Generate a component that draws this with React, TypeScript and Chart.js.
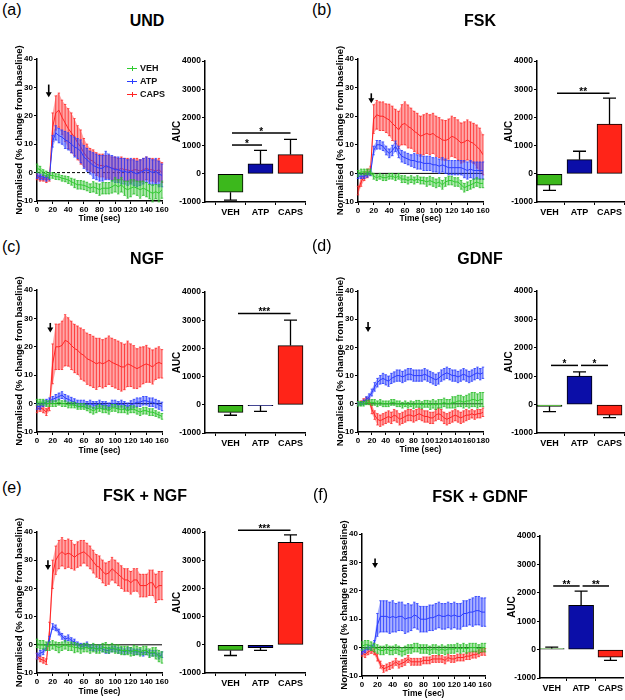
import React, { useEffect, useRef } from "react";
import { Chart, registerables } from "chart.js";
Chart.register(...registerables);

const FONT = "'Liberation Sans', Arial, Helvetica, sans-serif";

// ---------- time axes (sec) ----------
const TIME_160 = [0,4,8,12,16,20,24,28,32,36,40,44,48,52,56,60,64,68,72,76,80,84,88,92,96,100,104,108,112,116,120,124,128,132,136,140,144,148,152,156,160];
const TIME_180 = [0,4,8,12,16,20,24,28,32,36,40,44,48,52,56,60,64,68,72,76,80,84,88,92,96,100,104,108,112,116,120,124,128,132,136,140,144,148,152,156,160,164,168,172,176,180];

// ---------- (a) UND ----------
const UND_VEH = [1.5,1,0,-0.5,-1,-1,-1.4,-1.5,-2,-2.2,-2.6,-3.2,-3.8,-4.3,-4.3,-4.5,-4.9,-5.5,-5,-5.5,-6,-5.5,-5.5,-5.5,-5,-4.3,-5,-4.3,-5.5,-6,-5.5,-5,-5.5,-6,-5.5,-6,-6.7,-7.3,-6.7,-7.3,-6];
const UND_VEH_SEM = [1.5,1.2,1,1,1,1,1,1,1,1,1.2,1.2,1.5,1.5,1.5,1.5,1.5,1.5,1.8,1.8,2,2,2,2,2.2,2.5,2.5,2.5,2.5,3,3,2.5,2.5,3,2.5,2.5,2.5,3,2.5,3,3];
const UND_ATP = [-1,-1.5,-1.5,-2,-1.5,11,14,13,12.5,11.5,11,10,9,8.5,7.5,5.5,4.5,3.5,2.5,2,1.5,1.5,2.5,2,1.5,1,1,0.5,0.5,0,0.5,0,-0.5,0,0.5,1,0.5,0,0.5,-0.5,-1];
const UND_ATP_SEM = [1,1,1,1,1,2,2.5,2.5,2.5,3,3,3,3.5,3.5,4,4,4,4,4.5,4.5,4.5,4.5,5,4.5,4.5,4.5,4.5,4.5,4.5,4.5,4.5,4.5,4.5,4.5,4.5,4.5,4.5,4.5,4.5,4.5,4];
const UND_CAPS = [-1.5,-2,-2,-2.5,-2,16,21,22,19.5,17.5,15.5,14,12.5,10.5,9,7,5.5,4.5,4,3,2.5,2.5,2,2,1.5,1.5,1,1.5,1,1,0.5,1,1,0.5,1,1.5,1,1,0.5,1,0];
const UND_CAPS_SEM = [1,1,1,1,1,5,6,6,6,6.5,7,7,6.5,6,6,5,4.5,4,4,4,4,4,4,4,4,4,4,4,4,4,4,4,4,4,4,4,4,4,4,4,3.5];
const UND_ARROW = [15, 31, 26.5];
const UND_AUC = [-650, 350, 680];
const UND_AUC_SEM = [280, 480, 540];
const UND_SIG: [number, number, number, string][] = [[1.05, 2.05, 1020, "*"], [1.05, 3.0, 1450, "*"]];

// ---------- (b) FSK ----------
const FSK_VEH = [0,0.5,0.5,0.5,0.5,-1,-1.5,-1,-1.5,-1.5,-1,-1,-1.5,-1,-2,-2,-2.5,-2,-2.5,-2,-2.5,-2.5,-3,-2.5,-3,-3.5,-3,-4,-3,-2.5,-2.5,-3,-3,-4,-5,-4.5,-4,-3.5,-3,-3.5,-3.5];
const FSK_VEH_SEM = [1,1,1,1,1,1,1,1,1,1,1,1,1,1,1.2,1.2,1.2,1.2,1.2,1.2,1.2,1.2,1.5,1.5,1.5,1.5,1.5,1.5,1.5,1.5,1.5,1.5,1.5,1.5,1.5,1.5,1.5,1.5,1.5,1.5,1.5];
const FSK_ATP = [-1,-1,-1,-0.5,0,8,10,10,9.5,8,7,8,9.5,7.5,6,5.5,5,4.5,4.5,4,4,3.5,3.5,3.5,3,3,2.5,3,2.5,2,2,2,2,2,1.5,1,1.5,1,1,1,1];
const FSK_ATP_SEM = [0.8,0.8,0.8,0.8,0.8,1.5,1.5,1.5,1.5,1.5,1.5,1.8,1.8,2,2,2,2,2,2.5,2.5,2.5,2.5,2.5,2.5,2.5,2.5,2.5,2.5,2.5,2.5,2.5,2.5,2.5,2.5,3,3,3,3,3,3,3];
const FSK_CAPS = [-6,-3,-1,0,1,19,20.5,20,20,19.3,18.7,17.5,16.4,15.2,17,17.5,16.4,15.8,14.7,14,13,13.5,14,13.5,14,13,12.5,11.7,11.5,12,13,12.5,11.7,10.6,11,11.7,11,10.5,9.4,8.3,6.5];
const FSK_CAPS_SEM = [1.5,1.5,1.5,1.5,1.5,5,5,5,5,5,5.5,6,6,6.5,7,7.5,7.5,7,7,7,7,7,7,7,7,7,7,7,7,7,7,7,7,7,7,7,7,7,7.5,7.5,7];
const FSK_ARROW = [17, 28, 24.5];
const FSK_AUC = [-400, 500, 1760];
const FSK_AUC_SEM = [190, 300, 920];
const FSK_SIG: [number, number, number, string][] = [[1.25, 3.0, 2860, "**"]];

// ---------- (c) NGF ----------
const NGF_VEH = [0.5,0.5,0.5,0,0,0,0,0.5,0,0,-0.5,-0.5,-0.5,-1,-1,-1,-1.5,-2,-2.5,-2,-1.5,-2,-2,-2.5,-1.5,-1.5,-2,-2,-2,-2.5,-2,-2,-2.5,-3,-2.5,-2.5,-3,-3,-3.5,-4,-4.5];
const NGF_VEH_SEM = [1,1,1,1,1,1,1,1,1,1,1,1,1,1,1,1,1,1.2,1.2,1.2,1.2,1.2,1.2,1.2,1.2,1.2,1.2,1.2,1.2,1.2,1.2,1.2,1.2,1.2,1.2,1.2,1.2,1.2,1,1,1];
const NGF_ATP = [-1,-1,0,0.5,1,1.5,2,2.5,3,2,1.5,1,0.5,0,0,0,-0.5,0,-0.5,-0.5,0,-0.5,-0.5,-1,0,0,-0.5,0,-0.5,-1,-0.5,0,0.5,0.5,1,1,0.5,0.5,0,-0.5,-1];
const NGF_ATP_SEM = [1,1,1,1,1,1,1.2,1.2,1.2,1.2,1.2,1.2,1.2,1.2,1.2,1.2,1.2,1.2,1.2,1.2,1.2,1.2,1.2,1.2,1.2,1.2,1.2,1.2,1.2,1.2,1.5,1.5,1.5,1.5,1.5,1.5,1.5,1.5,1.5,1.5,1.5];
const NGF_CAPS = [-2,-1.5,-2,-3,-1,14,20,20,20.5,22.3,21.7,20.5,19.4,18.8,17.6,17,15.8,15.3,14.7,14,14.5,14,14.5,15.3,14.5,14,13.5,12.9,12.9,14,13.5,12.9,12.3,12.9,13.5,14,13.5,12.9,14,14.5,14];
const NGF_CAPS_SEM = [1.2,1.2,1.2,1.2,1.5,7,8,8,8.5,9,8.5,8.5,8.5,8.5,9,9,9,9,9,9,8.5,8.5,8.5,8.5,8.5,8.5,8.5,8.5,8,8,7.5,7.5,7,7,6.5,6.5,6,6,5.5,5.5,5];
const NGF_ARROW = [17, 28.4, 25];
const NGF_AUC = [-270, -30, 2100];
const NGF_AUC_SEM = [100, 200, 900];
const NGF_SIG: [number, number, number, string][] = [[1.25, 3.0, 3240, "***"]];

// ---------- (d) GDNF ----------
const GDNF_VEH = [0,0,0,0.5,0.5,0.5,0.5,0,0.5,0,0,0,0.5,0.5,0,0,-0.5,0,-0.5,0,-0.5,0,0,-0.5,0,0,-0.5,0,-0.5,0,0,0.5,0,0,0.5,0.5,1,1,0.5,1,1,1.5,1.5,1,1.5,1.5];
const GDNF_VEH_SEM = [0.8,0.8,0.8,0.8,0.8,1,1,1,1,1,1,1,1,1,1,1,1,1,1,1,1.2,1.2,1.2,1.2,1.2,1.2,1.5,1.5,1.5,1.5,1.5,1.5,1.5,1.5,2,2,2,2,2,2,2.5,2.5,2.5,2.5,2.5,2.5];
const GDNF_ATP = [0,0,0.5,1.5,2.5,4,6,7.5,8.5,9,8.5,8,9,9.5,10,10,9.5,10,10.5,10.5,10,10,10,10,10.5,10,9.5,9,8.5,9,10,10.5,11,10.5,10,10,9.5,10,10.5,10,9.5,10,10.5,11,10.5,11];
const GDNF_ATP_SEM = [0.5,0.5,0.8,1,1,1.2,1.5,1.5,1.5,1.8,1.8,1.8,1.8,1.8,2,2,2,2,2,2,2,2,2,2,2,2,2,2,2,2,2,2,2,2,2,2,2,2,2,2,2,2,2,2,2,2];
const GDNF_CAPS = [0,0.5,1,1.5,1,-2,-4,-5.5,-6,-5.5,-5,-4.5,-5,-4,-4.5,-5.5,-5,-4.5,-4,-4,-4.5,-4,-3.5,-4,-4.5,-4.5,-5,-5,-4,-3.5,-4,-5,-5.5,-5,-4.5,-4,-4.5,-5,-4.5,-4,-4,-3.5,-4,-3.5,-3.5,-3];
const GDNF_CAPS_SEM = [0.5,0.5,0.8,0.8,1,1.5,1.5,2,2,2,2,2,2,2,2,2,2,2,2,2,2,2,2,2,2,2,2,2,2,2,2,2,2,2,2,2,2,2,2,2,1.5,1.5,1.5,1.5,1.5,1.5];
const GDNF_ARROW = [14.5, 29, 25.5];
const GDNF_AUC = [-60, 1000, -370];
const GDNF_AUC_SEM = [190, 150, 90];
const GDNF_SIG: [number, number, number, string][] = [[1.05, 1.95, 1380, "*"], [2.05, 2.95, 1380, "*"]];

// ---------- (e) FSK + NGF ----------
const FN_VEH = [0.5,0,0,-0.5,-0.5,0,-0.5,-1,-0.5,0,-0.5,-0.5,-1,-1,-1.5,-1,-1,-1.5,-1,-1.5,-1.5,-1,-1,-1.5,-1,-1.5,-1.5,-2,-2,-2,-2.5,-2,-2,-2.5,-2,-2,-3,-2.5,-3,-4,-4.5];
const FN_VEH_SEM = [1.5,1.5,1.5,1.5,1.5,1.5,1.5,1.8,1.5,1.5,1.5,1.5,1.8,1.5,1.5,1.5,1.5,1.5,1.5,1.5,1.5,1.5,1.8,1.5,1.5,1.5,1.5,1.5,1.5,1.5,1.5,1.8,1.5,1.5,1.5,1.5,1.5,1.5,2,2,2];
const FN_ATP = [-4,-3,-2.5,-1,2,6.5,6,4.5,3,2,2.5,1.5,1,0,-0.5,-0.5,0,-1,-1,-1.5,-1,-1.5,-2,-2,-1.5,-1.5,-2,-2,-2.5,-2,-2,-2.5,-2.5,-2.5,-3,-2.5,-3,-3,-3,-4,-3.5];
const FN_ATP_SEM = [1,1,1,1,1,1,1,1,1,1,1,1,1,1,1,1,1,1,1,1,1,1,1,1,1,1,1,1,1,1,1,1,1,1,1,1,1,1,1,1,1];
const FN_CAPS = [-4,-5,-5.5,-6,5,25,30,32,33,32,32.5,32,31,32,32.5,33,32,31,29.5,28,27.5,26,25,25.5,27,26,25,24,23,23,22,23,23,21,21,21,22,22,20,21,21];
const FN_CAPS_SEM = [1,1,1,1,3,5,5,5,5,5,5,5,4.5,4.5,4.5,4,4,4,4,4,4,4,4,4,4,4,4,4,4,4,4,4,4,4,4,4,4.5,4.5,5,5,5];
const FN_ARROW = [14, 30, 26.5];
const FN_AUC = [-200, -100, 3630];
const FN_AUC_SEM = [180, 100, 270];
const FN_SIG: [number, number, number, string][] = [[1.25, 3.0, 4060, "***"]];

// ---------- (f) FSK + GDNF ----------
const FG_VEH = [0.5,1,1,0.5,0,-0.5,-1,-1,-0.5,-1,-1,-0.5,-1,-1.5,-1,-0.5,-0.5,0,0,-0.5,-0.5,-0.5,-1,-0.5,-0.5,-1,-0.5,-1,-0.5,-0.5,-0.5,0,-0.5,0,-0.5,0,0,0,-0.5,0,0];
const FG_VEH_SEM = [1.5,1.5,1.5,1.5,1.5,1.5,1.5,1.5,1.5,1.5,1.5,1.5,1.5,1.5,1.5,1.5,1.5,1.5,1.5,1.5,1.5,1.5,1.5,1.5,1.5,1.5,1.5,1.5,1.5,1.5,1.5,1.5,1.5,1.5,1.5,1.5,1.5,1.5,1.5,1.5,1.5];
const FG_ATP = [-1.5,-1,0,0,1.5,8,11,11,11,10.5,11,10.5,11,11,10,10.5,10.5,11.5,11,10,10,10,10.5,10.5,11,11.5,11,11,11.5,11,11.5,11,11,12,12,12.5,12.5,13,13,12.5,12.5];
const FG_ATP_SEM = [0.8,0.8,0.8,0.8,1,4,5.5,5.5,5.5,5.5,5.5,5,5,5,5,5,4.5,4.5,4.5,4.5,4.5,4.5,4.5,4.5,4.5,4.5,4.5,4.5,4.5,4.5,4.5,4.5,4.5,4.5,4.5,4.5,5,5,5,5,5];
const FG_CAPS = [-2,-2.5,-1.5,-1,-1.5,-3.5,-6,-7.5,-7,-6.5,-6,-5,-6,-5.5,-5,-4,-5,-5,-5,-5,-4.5,-4.5,-4.5,-4,-4,-4,-4,-4.5,-3.5,-4,-4,-3.5,-3.5,-3.5,-3,-3,-2.5,-2.5,-2,-1.5,-1.5];
const FG_CAPS_SEM = [1,1,1,1,1,1.2,1.2,1.2,1.2,1.2,1.2,1.2,1.2,1.2,1.2,1.2,1.2,1.2,1.2,1.2,1.2,1.2,1.2,1.2,1.2,1.2,1.2,1.2,1.2,1.2,1.2,1.2,1.2,1.2,1.2,1.2,1.2,1.2,1.2,1.2,1.2];
const FG_ARROW = [17, 31.4, 28];
const FG_AUC = [40, 1560, -270];
const FG_AUC_SEM = [50, 500, 110];
const FG_SIG: [number, number, number, string][] = [[1.05, 1.95, 2240, "**"], [2.05, 2.95, 2240, "**"]];

const GROUPS = ["VEH", "ATP", "CAPS"];
const X_TICK_STEP = 20;
const Y_LINE_TICKS = [-10, 0, 10, 20, 30, 40];
const Y_BAR_TICKS = [-1000, 0, 1000, 2000, 3000, 4000];

// ---------- styles ----------
const LINE_COLORS = ["#2ecb2e", "#2a3cff", "#ff2424"];
const BAND_COLORS = ["rgba(60,200,60,0.42)", "rgba(50,70,255,0.42)", "rgba(255,60,60,0.45)"];
const ERR_COLORS = ["rgba(40,190,40,0.9)", "rgba(40,60,255,0.9)", "rgba(255,40,40,0.9)"];
const BAR_COLORS = ["#3cb81c", "#0b0ea8", "#ff2418"];
const BAR_SPACING = 30;

type Rect = { x: number; y: number; w: number; h: number };

function lineConfig(p: any) {
  const { rect, area } = p;
  const series = [
    { mean: p.veh, sem: p.vehSem },
    { mean: p.atp, sem: p.atpSem },
    { mean: p.caps, sem: p.capsSem },
  ];
  const datasets: any[] = [];
  series.forEach((s, k) => {
    datasets.push({
      data: p.time.map((t: number, i: number) => ({ x: t, y: s.mean[i] })),
      borderColor: LINE_COLORS[k], borderWidth: 1, pointRadius: 0, fill: false,
    });
    datasets.push({
      data: p.time.map((t: number, i: number) => ({ x: t, y: s.mean[i] + s.sem[i] })),
      borderColor: "rgba(0,0,0,0)", borderWidth: 0, pointRadius: 0,
      fill: "+1", backgroundColor: BAND_COLORS[k], errColor: ERR_COLORS[k],
    });
    datasets.push({
      data: p.time.map((t: number, i: number) => ({ x: t, y: s.mean[i] - s.sem[i] })),
      borderColor: "rgba(0,0,0,0)", borderWidth: 0, pointRadius: 0, fill: false,
    });
  });
  const tickFont = { family: FONT, size: 8, weight: "bold" as const };
  const plugin = {
    id: "lineExtras",
    beforeDatasetsDraw(chart: any) {
      const { ctx, chartArea, scales } = chart;
      const py = scales.y.getPixelForValue(0);
      ctx.save();
      ctx.strokeStyle = "#000";
      ctx.lineWidth = 1;
      if (p.dashedZero) ctx.setLineDash([3, 2]);
      ctx.beginPath();
      ctx.moveTo(chartArea.left, py);
      ctx.lineTo(chartArea.right, py);
      ctx.stroke();
      ctx.restore();
    },
    afterDatasetDraw(chart: any, args: any) {
      const ds: any = chart.data.datasets[args.index];
      if (!ds.errColor) return;
      const up = chart.getDatasetMeta(args.index).data;
      const lo = chart.getDatasetMeta(args.index + 1).data;
      const ctx = chart.ctx;
      ctx.save();
      ctx.strokeStyle = ds.errColor;
      ctx.lineWidth = 0.9;
      ctx.beginPath();
      for (let i = 0; i < up.length; i++) {
        const a = up[i], b = lo[i];
        ctx.moveTo(a.x, a.y); ctx.lineTo(a.x, b.y);
        ctx.moveTo(a.x - 1.2, a.y); ctx.lineTo(a.x + 1.2, a.y);
        ctx.moveTo(a.x - 1.2, b.y); ctx.lineTo(a.x + 1.2, b.y);
      }
      ctx.stroke();
      ctx.restore();
    },
    afterDatasetsDraw(chart: any) {
      const { ctx, scales } = chart;
      const [t, y1, y2] = p.arrow;
      const x = scales.x.getPixelForValue(t);
      const py1 = scales.y.getPixelForValue(y1);
      const py2 = scales.y.getPixelForValue(y2);
      ctx.save();
      ctx.strokeStyle = "#000";
      ctx.fillStyle = "#000";
      ctx.lineWidth = 1.6;
      ctx.beginPath();
      ctx.moveTo(x, py1); ctx.lineTo(x, py2 - 4);
      ctx.stroke();
      ctx.beginPath();
      ctx.moveTo(x - 3, py2 - 5); ctx.lineTo(x + 3, py2 - 5); ctx.lineTo(x, py2);
      ctx.closePath();
      ctx.fill();
      ctx.restore();
    },
  };
  return {
    type: "line",
    data: { datasets },
    plugins: [plugin],
    options: {
      responsive: false, animation: false, devicePixelRatio: 1,
      layout: { padding: { left: 0, top: area.t - rect.y, right: rect.x + rect.w - area.r, bottom: 0 } },
      plugins: { legend: { display: false }, tooltip: { enabled: false } },
      scales: {
        x: {
          type: "linear", min: 0, max: p.xMax,
          ticks: { stepSize: X_TICK_STEP, font: tickFont, color: "#000", padding: 1, maxRotation: 0, autoSkip: false },
          grid: { drawOnChartArea: false, tickLength: 3, color: "#000", lineWidth: 1 },
          border: { color: "#000", width: 1.5 },
          title: { display: true, text: "Time (sec)", color: "#000", font: { family: FONT, size: 8.5, weight: "bold" }, padding: { top: 0, bottom: p.xTitlePad } },
          afterFit: (s: any) => { s.height = rect.y + rect.h - area.b; },
        },
        y: {
          type: "linear", min: -10, max: 40,
          afterBuildTicks: (s: any) => { s.ticks = Y_LINE_TICKS.map((v) => ({ value: v })); },
          ticks: { font: tickFont, color: "#000", padding: 1, callback: (v: any) => String(v) },
          grid: { drawOnChartArea: false, tickLength: 3, color: "#000", lineWidth: 1 },
          border: { color: "#000", width: 1.5 },
          title: { display: true, text: "Normalised (% change from baseline)", color: "#000", font: { family: FONT, size: 9.5, weight: "bold" }, padding: { top: 13.3, bottom: 0 } },
          afterFit: (s: any) => { s.width = area.l - rect.x; },
        },
      },
    },
  };
}

function barConfig(p: any) {
  const { rect, area } = p;
  const right = area.l + (p.max - p.min) * BAR_SPACING;
  const plugin = {
    id: "barExtras",
    afterDatasetsDraw(chart: any) {
      const { ctx, scales } = chart;
      const meta = chart.getDatasetMeta(0);
      ctx.save();
      ctx.strokeStyle = "#000";
      ctx.lineWidth = 1.3;
      meta.data.forEach((el: any, i: number) => {
        const v = p.auc[i];
        const e = v >= 0 ? v + p.sem[i] : v - p.sem[i];
        const ey = scales.y.getPixelForValue(e);
        ctx.beginPath();
        ctx.moveTo(el.x, el.y); ctx.lineTo(el.x, ey);
        ctx.moveTo(el.x - 6.5, ey); ctx.lineTo(el.x + 6.5, ey);
        ctx.stroke();
      });
      ctx.lineWidth = 1.5;
      ctx.fillStyle = "#000";
      ctx.font = `bold 10px ${FONT}`;
      ctx.textAlign = "center";
      ctx.textBaseline = "alphabetic";
      p.sig.forEach(([x1, x2, yv, txt]: [number, number, number, string]) => {
        const px1 = scales.x.getPixelForValue(x1);
        const px2 = scales.x.getPixelForValue(x2);
        const py = scales.y.getPixelForValue(yv);
        ctx.beginPath();
        ctx.moveTo(px1, py); ctx.lineTo(px2, py);
        ctx.stroke();
        ctx.fillText(txt, (px1 + px2) / 2, py + 2);
      });
      ctx.restore();
    },
  };
  return {
    type: "bar",
    data: {
      datasets: [{
        data: p.auc.map((v: number, i: number) => ({ x: i + 1, y: v })),
        backgroundColor: BAR_COLORS, borderColor: "#000", borderWidth: 1,
        borderSkipped: false, barThickness: 25,
      }],
    },
    plugins: [plugin],
    options: {
      responsive: false, animation: false, devicePixelRatio: 1,
      layout: { padding: { left: 0, top: area.t - rect.y, right: Math.max(0, rect.x + rect.w - right), bottom: 0 } },
      plugins: { legend: { display: false }, tooltip: { enabled: false } },
      scales: {
        x: {
          type: "linear", min: p.min, max: p.max, offset: false,
          afterBuildTicks: (s: any) => { s.ticks = GROUPS.map((_, i) => ({ value: i + 1 })); },
          ticks: { font: { family: FONT, size: 9, weight: "bold" }, color: "#000", padding: 2, maxRotation: 0, autoSkip: false,
            callback: (v: any) => GROUPS[Math.round(v) - 1] },
          grid: { drawOnChartArea: false, tickLength: 3, color: "#000", lineWidth: 1 },
          border: { color: "#000", width: 1.5 },
          afterFit: (s: any) => { s.height = rect.y + rect.h - area.b; },
        },
        y: {
          type: "linear", min: -1000, max: 4000,
          afterBuildTicks: (s: any) => { s.ticks = Y_BAR_TICKS.map((v) => ({ value: v })); },
          ticks: { font: { family: FONT, size: 8.5, weight: "bold" }, color: "#000", padding: 1, callback: (v: any) => String(v) },
          grid: { drawOnChartArea: false, tickLength: 3, color: "#000", lineWidth: 1 },
          border: { color: "#000", width: 1.5 },
          title: { display: true, text: "AUC", color: "#000", font: { family: FONT, size: 10, weight: "bold" }, padding: { top: 3, bottom: 0 } },
          afterFit: (s: any) => { s.width = area.l - rect.x; },
        },
      },
    },
  };
}

function ChartCanvas({ rect, make }: { rect: Rect; make: () => any }) {
  const ref = useRef<HTMLCanvasElement>(null);
  useEffect(() => {
    const chart = new Chart(ref.current as HTMLCanvasElement, make());
    return () => chart.destroy();
  }, []);
  return (
    <canvas ref={ref} width={rect.w} height={rect.h}
      style={{ position: "absolute", left: rect.x, top: rect.y, width: rect.w, height: rect.h, display: "block" }} />
  );
}

const PANELS = [
  {
    label: "(a)", lx: 2, ly: 10, title: "UND", tx: 147, ty: 21,
    line: { time: TIME_160, xMax: 160, veh: UND_VEH, vehSem: UND_VEH_SEM, atp: UND_ATP, atpSem: UND_ATP_SEM, caps: UND_CAPS, capsSem: UND_CAPS_SEM, arrow: UND_ARROW, dashedZero: true, xTitlePad: 2,
      rect: { x: 0, y: 30, w: 178, h: 196 }, area: { l: 37, t: 59, r: 162, b: 201 } },
    bar: { auc: UND_AUC, sem: UND_AUC_SEM, sig: UND_SIG, min: 0.15, max: 3.5,
      rect: { x: 168, y: 30, w: 147, h: 196 }, area: { l: 205, t: 61, b: 202 } },
  },
  {
    label: "(b)", lx: 312, ly: 10, title: "FSK", tx: 480, ty: 21,
    line: { time: TIME_160, xMax: 160, veh: FSK_VEH, vehSem: FSK_VEH_SEM, atp: FSK_ATP, atpSem: FSK_ATP_SEM, caps: FSK_CAPS, capsSem: FSK_CAPS_SEM, arrow: FSK_ARROW, dashedZero: false, xTitlePad: 2,
      rect: { x: 321, y: 30, w: 178, h: 196 }, area: { l: 358, t: 59, r: 483, b: 202 } },
    bar: { auc: FSK_AUC, sem: FSK_AUC_SEM, sig: FSK_SIG, min: 0.583, max: 3.5,
      rect: { x: 500, y: 30, w: 125, h: 196 }, area: { l: 537, t: 61, b: 202 } },
  },
  {
    label: "(c)", lx: 2, ly: 247, title: "NGF", tx: 147, ty: 259,
    line: { time: TIME_160, xMax: 160, veh: NGF_VEH, vehSem: NGF_VEH_SEM, atp: NGF_ATP, atpSem: NGF_ATP_SEM, caps: NGF_CAPS, capsSem: NGF_CAPS_SEM, arrow: NGF_ARROW, dashedZero: false, xTitlePad: 1,
      rect: { x: 0, y: 261, w: 178, h: 196 }, area: { l: 37, t: 290, r: 162, b: 432 } },
    bar: { auc: NGF_AUC, sem: NGF_AUC_SEM, sig: NGF_SIG, min: 0.15, max: 3.5,
      rect: { x: 168, y: 261, w: 147, h: 196 }, area: { l: 205, t: 292, b: 433 } },
  },
  {
    label: "(d)", lx: 312, ly: 246, title: "GDNF", tx: 480, ty: 259,
    line: { time: TIME_180, xMax: 180, veh: GDNF_VEH, vehSem: GDNF_VEH_SEM, atp: GDNF_ATP, atpSem: GDNF_ATP_SEM, caps: GDNF_CAPS, capsSem: GDNF_CAPS_SEM, arrow: GDNF_ARROW, dashedZero: false, xTitlePad: 2,
      rect: { x: 321, y: 261, w: 178, h: 196 }, area: { l: 358, t: 291, r: 483, b: 432 } },
    bar: { auc: GDNF_AUC, sem: GDNF_AUC_SEM, sig: GDNF_SIG, min: 0.583, max: 3.5,
      rect: { x: 500, y: 261, w: 125, h: 196 }, area: { l: 537, t: 291, b: 433 } },
  },
  {
    label: "(e)", lx: 2, ly: 488, title: "FSK + NGF", tx: 145, ty: 496,
    line: { time: TIME_160, xMax: 160, veh: FN_VEH, vehSem: FN_VEH_SEM, atp: FN_ATP, atpSem: FN_ATP_SEM, caps: FN_CAPS, capsSem: FN_CAPS_SEM, arrow: FN_ARROW, dashedZero: false, xTitlePad: 3,
      rect: { x: 0, y: 500, w: 178, h: 200 }, area: { l: 37, t: 532, r: 162, b: 673 } },
    bar: { auc: FN_AUC, sem: FN_AUC_SEM, sig: FN_SIG, min: 0.15, max: 3.5,
      rect: { x: 168, y: 500, w: 147, h: 200 }, area: { l: 205, t: 532, b: 673 } },
  },
  {
    label: "(f)", lx: 313, ly: 495, title: "FSK + GDNF", tx: 480, ty: 497,
    line: { time: TIME_160, xMax: 160, veh: FG_VEH, vehSem: FG_VEH_SEM, atp: FG_ATP, atpSem: FG_ATP_SEM, caps: FG_CAPS, capsSem: FG_CAPS_SEM, arrow: FG_ARROW, dashedZero: false, xTitlePad: 1,
      rect: { x: 325, y: 500, w: 178, h: 200 }, area: { l: 362, t: 534, r: 485, b: 676 } },
    bar: { auc: FG_AUC, sem: FG_AUC_SEM, sig: FG_SIG, min: 0.6, max: 3.43,
      rect: { x: 503, y: 500, w: 122, h: 200 }, area: { l: 540, t: 536, b: 678 } },
  },
];

const LEGEND_Y = [68, 81, 94];

export default function App() {
  return (
    <div style={{ position: "absolute", left: 0, top: 0, width: 625, height: 700, background: "#fff", overflow: "hidden" }}>
      {PANELS.map((p, i) => (
        <React.Fragment key={i}>
          <ChartCanvas rect={p.line.rect} make={() => lineConfig(p.line)} />
          <ChartCanvas rect={p.bar.rect} make={() => barConfig(p.bar)} />
          <div style={{ position: "absolute", left: p.lx, top: p.ly, transform: "translateY(-50%)", font: `16px ${FONT}`, lineHeight: 1, color: "#000" }}>{p.label}</div>
          <div style={{ position: "absolute", left: p.tx, top: p.ty, transform: "translate(-50%,-50%)", font: `bold 16px ${FONT}`, lineHeight: 1, whiteSpace: "nowrap", color: "#000" }}>{p.title}</div>
        </React.Fragment>
      ))}
      {GROUPS.map((g, i) => (
        <div key={g} style={{ position: "absolute", left: 127, top: LEGEND_Y[i] - 6, height: 12, display: "flex", alignItems: "center" }}>
          <div style={{ position: "relative", width: 10, height: 1, background: LINE_COLORS[i] }}>
            <div style={{ position: "absolute", left: 4.5, top: -2, width: 1, height: 5, background: LINE_COLORS[i] }} />
          </div>
          <span style={{ marginLeft: 3, font: `bold 9px ${FONT}`, color: "#111" }}>{g}</span>
        </div>
      ))}
    </div>
  );
}
